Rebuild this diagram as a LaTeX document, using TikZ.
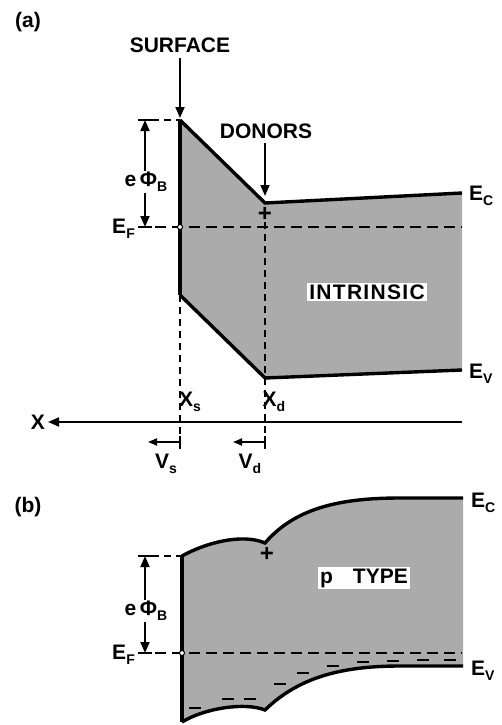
\documentclass[tikz,border=0pt]{standalone}
\usepackage{fontspec}
\setmainfont{Liberation Sans}
\usetikzlibrary{arrows.meta}
\newcommand{\sbs}[1]{\raisebox{-5pt}{\fontsize{14}{14}\selectfont #1}}
\newcommand{\lk}{\kern1.3pt}
\tikzset{
  band/.style={line width=3.4pt, line join=miter},
  bandfill/.style={fill=black!33},
  efline/.style={dash pattern=on 11pt off 6pt, line width=1.6pt},
  guide/.style={dash pattern=on 7pt off 5pt, line width=1.5pt},
  arr/.style={-{Triangle[length=11pt,width=9pt]}, line width=1.8pt},
  sarr/.style={-{Triangle[length=9pt,width=7pt]}, line width=1.8pt},
  lbl/.style={font=\bfseries\fontsize{21}{21}\selectfont, inner sep=1pt},
  tick/.style={line width=1.8pt},
  efdot/.style={circle, draw, fill=white, inner sep=0pt, minimum size=5pt, line width=1pt},
  charge/.style={line width=2.6pt},
}
\begin{document}
\begin{tikzpicture}[x=1pt,y=-1pt]
\useasboundingbox (0,0) rectangle (501,725);
% ===================== (a) =====================
\node[lbl] (la) at (28,22) {(a)};
\coordinate (sT) at (180,120);
\coordinate (dT) at (265,203);
\coordinate (cR) at (462,193);
\coordinate (vR) at (462,370);
\coordinate (dB) at (265,378);
\coordinate (sB) at (180,295);
\fill[bandfill] (sT) -- (dT) -- (cR) -- (vR) -- (dB) -- (sB) -- cycle;
% dashed guides
\coordinate (gsb) at (180,448);
\coordinate (gdt) at (265,210);
\coordinate (gdb) at (265,448);
\draw[guide] (sB) -- (gsb);
\draw[guide] (gdt) -- (gdb);
% Fermi level
\coordinate (efL) at (138,227);
\coordinate (efR) at (462,227);
\draw[efline] (efL) -- (efR);
% bands
\draw[band] (sT) -- (dT) -- (cR);
\draw[band] (sB) -- (dB) -- (vR);
\draw[band] (sT) -- (sB);
\node[efdot] (efa) at (180,227) {};
% labels
\node[lbl] (surf) at (180,45) {SURFACE};
\coordinate (surfA) at (180,58);
\coordinate (surfB) at (180,118);
\draw[arr] (surfA) -- (surfB);
\node[lbl] (don) at (266,131) {DONORS};
\coordinate (donA) at (265,143);
\coordinate (donB) at (265,196);
\draw[arr] (donA) -- (donB);
\node[font=\bfseries\fontsize{24}{24}\selectfont, inner sep=0pt] (plusa) at (265,214) {+};
\node[lbl, fill=white, inner sep=2pt] (intr) at (367,292) {I\lk N\lk T\lk R\lk I\lk N\lk S\lk I\lk C};
\node[lbl, anchor=west] (eca) at (468,196) {E\sbs{C}};
\node[lbl, anchor=west] (eva) at (468,374) {E\sbs{V}};
% e phi_B dimension
\coordinate (dimT) at (145,120);
\coordinate (dimB) at (145,227);
\draw[guide] (152,120) -- (sT);
\draw[tick] (138,120) -- (152,120);
\draw[tick] (138,227) -- (152,227);
\node[lbl] (phia) at (146,182) {e\,Φ\sbs{B}};
\draw[arr] (phia.north -| dimT) -- (dimT);
\draw[arr] (phia.south -| dimB) -- (dimB);
\node[lbl, anchor=east] (efla) at (136,229) {E\sbs{F}};
% x axis
\coordinate (axR) at (462,422);
\coordinate (axL) at (48,422);
\draw[arr] (axR) -- (axL);
\node[lbl, anchor=east] (xl) at (46,422) {X};
\node[lbl] (xs) at (190,402) {X\sbs{s}};
\node[lbl] (xd) at (274,402) {X\sbs{d}};
% velocities
\coordinate (vsA) at (180,442);
\coordinate (vsB) at (148,442);
\coordinate (vdA) at (265,442);
\coordinate (vdB) at (233,442);
\draw[tick] (180,436) -- (180,449);
\draw[tick] (265,436) -- (265,449);
\draw[sarr] (vsA) -- (vsB);
\draw[sarr] (vdA) -- (vdB);
\node[lbl] (vs) at (166,464) {V\sbs{s}};
\node[lbl] (vd) at (250,464) {V\sbs{d}};
% ===================== (b) =====================
\node[lbl] (lb) at (28,507) {(b)};
\coordinate (bTL) at (182,556);
\coordinate (bTc) at (265,543);
\coordinate (bTR) at (463,498);
\coordinate (bBL) at (182,722);
\coordinate (bBc) at (265,710);
\coordinate (bBR) at (463,666);
\fill[bandfill] (bTL) .. controls (205,543) and (242,533) .. (bTc)
  .. controls (295,508) and (340,498) .. (400,498) -- (bTR)
  -- (bBR) -- (400,666) .. controls (340,666) and (298,678) .. (bBc)
  .. controls (245,702) and (205,708) .. (bBL) -- cycle;
\coordinate (efLb) at (138,653);
\coordinate (efRb) at (462,653);
\draw[efline] (efLb) -- (efRb);
\draw[band] (bTL) .. controls (205,543) and (242,533) .. (bTc)
  .. controls (295,508) and (340,498) .. (400,498) -- (bTR);
\draw[band] (bBL) .. controls (205,708) and (245,702) .. (bBc)
  .. controls (298,678) and (340,666) .. (400,666) -- (bBR);
\draw[band] (bTL) -- (bBL);
\node[efdot] (efb) at (182,653) {};
% acceptor charges
\foreach \cx/\cy in {195/708, 228/699, 250/699, 280/684, 303/673, 333/666, 363/662, 393/661, 423/660, 450/660}
  \draw[charge] (\cx-6,\cy) -- (\cx+6,\cy);
\node[font=\bfseries\fontsize{24}{24}\selectfont, inner sep=0pt] (plusb) at (267,554) {+};
\node[lbl, fill=white, inner sep=2pt] (ptype) at (364,578) {p\hspace{20pt}TYPE};
\node[lbl, anchor=west] (ecb) at (470,503) {E\sbs{C}};
\node[lbl, anchor=west] (evb) at (470,671) {E\sbs{V}};
\coordinate (dimTb) at (145,556);
\coordinate (dimBb) at (145,653);
\draw[guide] (152,556) -- (bTL);
\draw[tick] (138,556) -- (152,556);
\draw[tick] (138,653) -- (152,653);
\node[lbl] (phib) at (146,611) {e\,Φ\sbs{B}};
\draw[arr] (phib.north -| dimTb) -- (dimTb);
\draw[arr] (phib.south -| dimBb) -- (dimBb);
\node[lbl, anchor=east] (eflb) at (136,655) {E\sbs{F}};
\end{tikzpicture}
\end{document}
